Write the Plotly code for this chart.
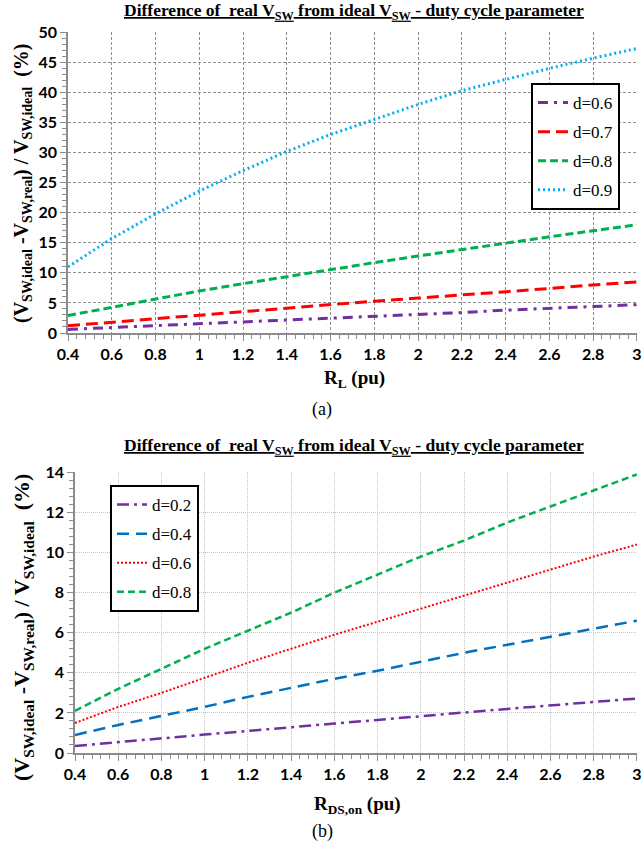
import plotly.graph_objects as go

# ---------------- data ----------------
x_vals = [0.4, 0.6, 0.8, 1.0, 1.2, 1.4, 1.6, 1.8, 2.0, 2.2, 2.4, 2.6, 2.8, 3.0]
tick_vals = [0.4, 0.6, 0.8, 1.0, 1.2, 1.4, 1.6, 1.8, 2.0, 2.2, 2.4, 2.6, 2.8, 3.0]
tick_text = ["0.4", "0.6", "0.8", "1", "1.2", "1.4", "1.6", "1.8", "2", "2.2", "2.4", "2.6", "2.8", "3"]

# (a) parameter R_L
a_names = ["d=0.6", "d=0.7", "d=0.8", "d=0.9"]
a_d06 = [0.6, 0.9, 1.3, 1.6, 1.9, 2.2, 2.5, 2.8, 3.1, 3.4, 3.8, 4.1, 4.4, 4.7]
a_d07 = [1.2, 1.8, 2.4, 3.0, 3.6, 4.1, 4.7, 5.3, 5.8, 6.3, 6.9, 7.4, 8.0, 8.5]
a_d08 = [2.9, 4.3, 5.6, 7.0, 8.2, 9.4, 10.5, 11.7, 12.8, 13.9, 14.9, 16.0, 17.0, 18.0]
a_d09 = [11.0, 15.7, 19.8, 23.6, 27.0, 30.2, 33.0, 35.5, 38.0, 40.3, 42.2, 44.0, 45.7, 47.3]

# (b) parameter R_DS,on
b_names = ["d=0.2", "d=0.4", "d=0.6", "d=0.8"]
b_d02 = [0.35, 0.55, 0.72, 0.92, 1.1, 1.3, 1.47, 1.65, 1.85, 2.02, 2.2, 2.38, 2.55, 2.72]
b_d04 = [0.9, 1.4, 1.85, 2.3, 2.8, 3.25, 3.7, 4.1, 4.55, 5.0, 5.4, 5.8, 6.2, 6.6]
b_d06 = [1.5, 2.3, 3.0, 3.75, 4.5, 5.2, 5.9, 6.55, 7.2, 7.85, 8.5, 9.15, 9.8, 10.4]
b_d08 = [2.1, 3.2, 4.2, 5.2, 6.1, 7.0, 8.0, 8.9, 9.8, 10.6, 11.5, 12.3, 13.1, 13.9]

y_a_ticks = [0, 5, 10, 15, 20, 25, 30, 35, 40, 45, 50]
y_b_ticks = [0, 2, 4, 6, 8, 10, 12, 14]

# ---------------- figure ----------------
W, H = 643, 849
def px_x(p):
    return p / W
def px_y(p):
    return 1 - p / H

fig = go.Figure()

a_styles = [
    dict(color="#7030a0", width=3, dash="10px,6px,3px,6px"),
    dict(color="#ff0000", width=3, dash="12px,6px"),
    dict(color="#00b050", width=3, dash="8px,4px"),
    dict(color="#00b0f0", width=3, dash="2px,3px"),
]
for name, ys, st in zip(a_names, [a_d06, a_d07, a_d08, a_d09], a_styles):
    fig.add_trace(go.Scatter(x=x_vals, y=ys, mode="lines", name=name, line=st,
                             xaxis="x", yaxis="y", legend="legend", legendgroup="a" + name))

b_styles = [
    dict(color="#7030a0", width=2.5, dash="12px,5px,3px,5px"),
    dict(color="#0070c0", width=2.5, dash="12px,7px"),
    dict(color="#ff0000", width=2, dash="2px,2px"),
    dict(color="#00b050", width=2.5, dash="7px,4px"),
]
for name, ys, st in zip(b_names, [b_d02, b_d04, b_d06, b_d08], b_styles):
    fig.add_trace(go.Scatter(x=x_vals, y=ys, mode="lines", name=name, line=st,
                             xaxis="x2", yaxis="y2", legend="legend2", legendgroup="b" + name))

tickfont = dict(family="Lato", size=16, color="black", weight="bold")

def xaxis(domain, anchor, gridcolor, griddash):
    return dict(domain=domain, anchor=anchor, range=[0.4, 3.0005], tickvals=tick_vals, ticktext=tick_text,
                showline=True, linecolor="#8c8c8c", linewidth=1.5, ticks="outside", ticklen=6,
                tickcolor="#8c8c8c", tickfont=tickfont, showgrid=True, gridcolor=gridcolor,
                griddash=griddash, gridwidth=1, zeroline=False, automargin=False, mirror=False,
                ticklabeloverflow="allow",
                minor=dict(dtick=0.04, tick0=0.4, ticks="outside", ticklen=4, tickcolor="#8c8c8c", showgrid=False))

def yaxis(domain, anchor, rng, tv, minor_dt, gridcolor, griddash):
    return dict(domain=domain, anchor=anchor, range=rng, tickvals=tv,
                showline=True, linecolor="#8c8c8c", linewidth=1.5, ticks="outside", ticklen=6,
                tickcolor="#8c8c8c", tickfont=tickfont, showgrid=True, gridcolor=gridcolor,
                griddash=griddash, gridwidth=1, zeroline=False, automargin=False,
                ticklabeloverflow="allow",
                minor=dict(dtick=minor_dt, ticks="outside", ticklen=4, tickcolor="#8c8c8c", showgrid=False))

fig.update_layout(
    width=W, height=H, margin=dict(l=0, r=0, t=0, b=0, pad=0),
    paper_bgcolor="white", plot_bgcolor="white",
    xaxis=xaxis([px_x(68), px_x(637)], "y", "#8f8f8f", "3px,2px"),
    yaxis=yaxis([px_y(333), px_y(32)], "x", [0, 50.05], y_a_ticks, 1, "#8f8f8f", "3px,2px"),
    xaxis2=xaxis([px_x(75), px_x(637)], "y2", "#c4c4c4", "1px,1px"),
    yaxis2=yaxis([px_y(753), px_y(472)], "x2", [0, 14.02], y_b_ticks, 0.4, "#c4c4c4", "1px,1px"),
    legend=dict(x=px_x(531), y=px_y(83), xanchor="left", yanchor="top",
                bordercolor="black", borderwidth=2, bgcolor="white",
                font=dict(family="Liberation Serif", size=17, color="black"),
                traceorder="grouped", tracegroupgap=4),
    legend2=dict(x=px_x(110), y=px_y(485), xanchor="left", yanchor="top",
                 bordercolor="black", borderwidth=2, bgcolor="white",
                 font=dict(family="Liberation Serif", size=17, color="black"),
                 traceorder="grouped", tracegroupgap=4),
    showlegend=True,
)

title_txt = "<u>Difference of  real V<sub>SW</sub> from ideal V<sub>SW</sub> - duty cycle parameter</u>"
ytitle = "(V<sub>SW,ideal</sub> -V<sub>SW,real</sub>) / V<sub>SW,ideal</sub>  (%)"
serif_b = dict(family="Liberation Serif", color="black", weight="bold")

ann = [
    dict(text=title_txt, x=px_x(354), y=px_y(12), font=dict(size=17.5, **serif_b)),
    dict(text=title_txt, x=px_x(354), y=px_y(447), font=dict(size=17.5, **serif_b)),
    dict(text=ytitle, x=px_x(23), y=px_y(183), textangle=-90, font=dict(size=20, **serif_b)),
    dict(text=ytitle, x=px_x(23), y=px_y(628), textangle=-90, font=dict(size=22, **serif_b)),
    dict(text="R<sub>L</sub> (pu)", x=px_x(354), y=px_y(379), font=dict(size=19, **serif_b)),
    dict(text="R<sub>DS,on</sub> (pu)", x=px_x(357), y=px_y(805), font=dict(size=19, **serif_b)),
    dict(text="(a)", x=px_x(322), y=px_y(409), font=dict(family="Liberation Serif", size=18, color="black")),
    dict(text="(b)", x=px_x(322), y=px_y(831), font=dict(family="Liberation Serif", size=18, color="black")),
]
for a in ann:
    fig.add_annotation(xref="paper", yref="paper", showarrow=False, xanchor="center", yanchor="middle", **a)

fig.write_html("out.html")
